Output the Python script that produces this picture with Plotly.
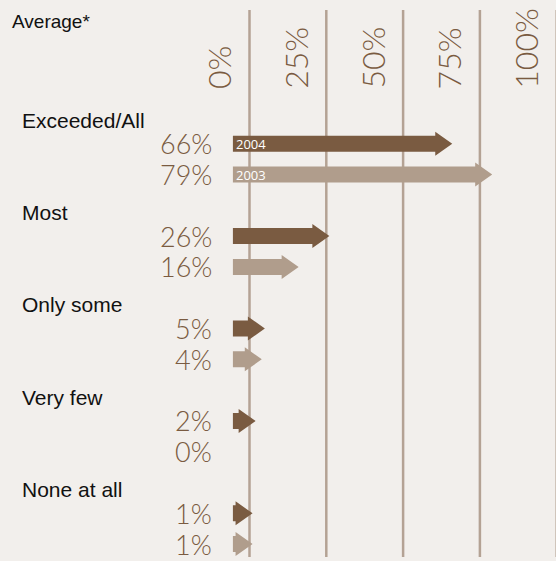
import plotly.graph_objects as go

# data
categories = ["Exceeded/All", "Most", "Only some", "Very few", "None at all"]
values_2004 = [66, 26, 5, 2, 1]
values_2003 = [79, 16, 4, 0, 1]
years = ["2004", "2003"]
tick_values = [0, 25, 50, 75, 100]
tick_labels = ["0%", "25%", "50%", "75%", "100%"]

colors = {
    'background': '#F2EFEC',
    'grid': '#B4A294',
    'dark': '#7A5B41',
    'light': '#B09D8C',
    'pct': '#7A5B41',
    'text': '#111111',
}

W, H = 556, 561
# axis geometry (pixel <-> data)
X0_PX, X_SCALE = 249.5, 3.072      # px of 0%, px per percent
Y0_PX, Y_SCALE = 120.0, 30.8       # px of first header row, px per row unit
x_range = [-X0_PX / X_SCALE, (W - X0_PX) / X_SCALE]
y_range = [(H - Y0_PX) / Y_SCALE, -Y0_PX / Y_SCALE]


def x_paper(v):
    return (v - x_range[0]) / (x_range[1] - x_range[0])


BASE = -5.4          # arrows start a little left of the 0% line
SHAFT = 8 / Y_SCALE  # half height of shaft
HEAD = 12 / Y_SCALE  # half height of head
HEAD_LEN = 17 / X_SCALE

header_y = [3 * g for g in range(len(categories))]
row_y = [[y + 0.77, y + 1.77] for y in header_y]


def arrow_path(values, offset):
    xs, ys = [], []
    for v, rows in zip(values, row_y):
        if v <= 0:
            continue
        y = rows[offset]
        neck = max(v - HEAD_LEN, BASE)
        xs += [BASE, neck, neck, v, neck, neck, BASE, BASE, None]
        ys += [y - SHAFT, y - SHAFT, y - HEAD, y, y + HEAD, y + SHAFT, y + SHAFT, y - SHAFT, None]
    return xs, ys


fig = go.Figure()

for i, (vals, col) in enumerate([(values_2004, colors['dark']), (values_2003, colors['light'])]):
    xs, ys = arrow_path(vals, i)
    fig.add_trace(go.Scatter(
        x=xs, y=ys, mode='lines', fill='toself',
        fillcolor=col, line=dict(color=col, width=0),
        hoverinfo='skip', showlegend=False,
    ))

# vertical gridlines
for t in tick_values:
    fig.add_shape(type='line', xref='x', yref='paper', x0=t, x1=t,
                  y0=1 - 557 / H, y1=1 - 10 / H, layer='below',
                  line=dict(color=colors['grid'], width=2.5))

# rotated tick labels (paper x so the 100% label survives past the range)
for t, lab in zip(tick_values, tick_labels):
    fig.add_annotation(x=x_paper(t), y=1 - 91 / H, xref='paper', yref='paper',
                       text=lab, textangle=-90, showarrow=False,
                       xanchor='right', yanchor='bottom', xshift=-10,
                       font=dict(family='Lato', weight=300, size=32, color=colors['pct']))

# category headers
for cat, y in zip(categories, header_y):
    fig.add_annotation(x=20 / W, y=y, xref='paper', yref='y', text=cat,
                       showarrow=False, xanchor='left', yanchor='middle',
                       font=dict(family='Liberation Sans', size=21, color=colors['text']))

# percentage labels
for vals, idx in [(values_2004, 0), (values_2003, 1)]:
    for v, rows in zip(vals, row_y):
        fig.add_annotation(x=214 / W, y=rows[idx], xref='paper', yref='y',
                           text=f"{v}%", showarrow=False,
                           xanchor='right', yanchor='middle',
                           font=dict(family='Lato', weight=300, size=27, color=colors['pct']))

# year tags inside the first pair of arrows
for idx, yr in enumerate(years):
    fig.add_annotation(x=BASE, y=row_y[0][idx], xref='x', yref='y', text=yr,
                       showarrow=False, xanchor='left', yanchor='middle', xshift=1,
                       font=dict(family='Open Sans', size=13, color='white'))

fig.add_annotation(x=10 / W, y=1 - 21 / H, xref='paper', yref='paper', text='Average*',
                   showarrow=False, xanchor='left', yanchor='middle',
                   font=dict(family='Liberation Sans', size=19, color=colors['text']))

fig.update_layout(
    width=W, height=H,
    margin=dict(l=0, r=0, t=0, b=0),
    plot_bgcolor=colors['background'],
    paper_bgcolor=colors['background'],
    showlegend=False,
)
fig.update_xaxes(range=x_range, visible=False, fixedrange=True)
fig.update_yaxes(range=y_range, visible=False, fixedrange=True)

fig.write_html("out.html", config={'displayModeBar': False},
               post_script="document.body.style.margin='0';")
